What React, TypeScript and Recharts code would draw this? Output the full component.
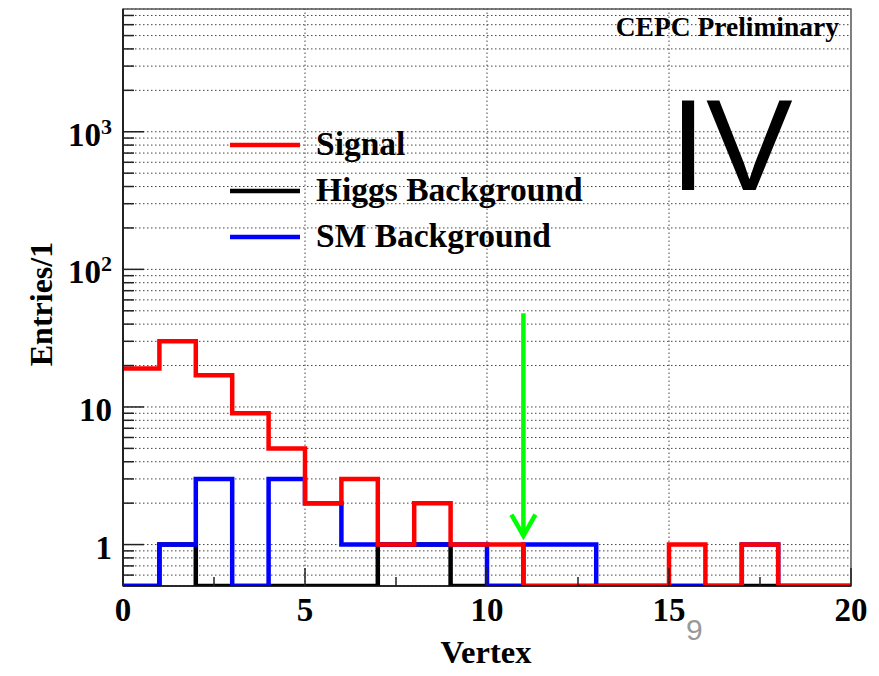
import React from "react";
import {
  ComposedChart,
  Line,
  XAxis,
  YAxis,
  CartesianGrid,
  ReferenceLine,
  ReferenceArea,
  Legend,
  Customized,
} from "recharts";

// ---- data (entries per unit bin of "Vertex", bins [0,1), [1,2) ... [19,20)) ----
const BIN_EDGES = [0, 1, 2, 3, 4, 5, 6, 7, 8, 9, 10, 11, 12, 13, 14, 15, 16, 17, 18, 19, 20];
const SIGNAL = [19, 30, 17, 9, 5, 2, 3, 1, 2, 1, 1, 0, 0, 0, 0, 1, 0, 1, 0, 0];
const HIGGS_BKG = [0, 1, 0, 0, 0, 0, 0, 1, 1, 0, 0, 0, 0, 0, 0, 0, 0, 0, 0, 0];
const SM_BKG = [0, 1, 3, 0, 3, 2, 1, 1, 1, 1, 0, 1, 1, 0, 0, 0, 0, 1, 0, 0];

const SERIES = [
  { key: "signal", name: "Signal", color: "#ff0000" },
  { key: "higgs", name: "Higgs Background", color: "#000000" },
  { key: "sm", name: "SM Background", color: "#0000ff" },
];

// cut arrow
const CUT_X = 11;
const ARROW_TOP = 48;
const ARROW_TIP = 1.16;

// axes
const X_DOMAIN = [0, 20];
const X_TICKS = [0, 2.5, 5, 7.5, 10, 12.5, 15, 17.5, 20];
const X_MAJOR = [0, 5, 10, 15, 20];
const X_GRID = [5, 10, 15];
const Y_MIN = 0.5;
const Y_MAX = 7800;
const Y_TICKS = [
  0.6, 0.7, 0.8, 0.9, 1, 2, 3, 4, 5, 6, 7, 8, 9, 10, 20, 30, 40, 50, 60, 70, 80, 90,
  100, 200, 300, 400, 500, 600, 700, 800, 900, 1000, 2000, 3000, 4000, 5000, 6000, 7000,
];
const Y_MAJOR_LABELS: Record<number, [string, string]> = {
  1: ["1", ""],
  10: ["10", ""],
  100: ["10", "2"],
  1000: ["10", "3"],
};

const floorLog = (v: number) => (v > 0 ? v : Y_MIN);

const chartData = BIN_EDGES.map((x, i) => {
  const j = Math.min(i, SIGNAL.length - 1);
  return {
    x,
    signal: floorLog(SIGNAL[j]),
    higgs: floorLog(HIGGS_BKG[j]),
    sm: floorLog(SM_BKG[j]),
  };
});

const SERIF = "'Liberation Serif', 'Times New Roman', serif";
const W = 879;
const H = 676;

const YTick = (props: any) => {
  const { x, y, payload } = props;
  const v = payload.value;
  const lab = Y_MAJOR_LABELS[v];
  const major = !!lab;
  return (
    <g>
      <line x1={x} x2={x + (major ? 21 : 11)} y1={y} y2={y} stroke="#222" strokeWidth={1.5} />
      {major && (
        <text
          x={x - 11}
          y={y + 14}
          textAnchor="end"
          fontFamily={SERIF}
          fontWeight="bold"
          fontSize={33}
          fill="#000"
        >
          <tspan>{lab[0]}</tspan>
          {lab[1] && (
            <tspan fontSize={22} dy={-12}>
              {lab[1]}
            </tspan>
          )}
        </text>
      )}
    </g>
  );
};

const XTick = (props: any) => {
  const { x, y, payload } = props;
  const v = payload.value;
  const major = X_MAJOR.includes(v);
  return (
    <g>
      <line x1={x} x2={x} y1={y} y2={y - (major ? 18 : 9)} stroke="#222" strokeWidth={1.5} />
      {major && (
        <text
          x={x}
          y={y + 35}
          textAnchor="middle"
          fontFamily={SERIF}
          fontWeight="bold"
          fontSize={33}
          fill="#000"
        >
          {String(v)}
        </text>
      )}
    </g>
  );
};

const CutArrow = (p: any) => {
  const { x1, y1, x2, y2 } = p;
  if (x1 == null) return null;
  return (
    <g>
      <line x1={x1} y1={y1} x2={x2} y2={y2} stroke="#00ff00" strokeWidth={4.5} />
      <polyline
        points={`${x2 - 12},${y2 - 21} ${x2},${y2} ${x2 + 12},${y2 - 21}`}
        fill="none"
        stroke="#00ff00"
        strokeWidth={4.5}
      />
    </g>
  );
};

const LegendBox = () => (
  <svg width={380} height={150} style={{ display: "block" }}>
    {SERIES.map((s, i) => {
      const cy = 25 + i * 46;
      return (
        <g key={s.key}>
          <line x1={5} x2={75} y1={cy} y2={cy} stroke={s.color} strokeWidth={4.5} />
          <text
            x={91}
            y={cy + 10}
            fontFamily={SERIF}
            fontWeight="bold"
            fontSize={33.5}
            fill="#000"
          >
            {s.name}
          </text>
        </g>
      );
    })}
  </svg>
);

const Annotations = () => (
  <g>
    <text
      x={839}
      y={36}
      textAnchor="end"
      fontFamily={SERIF}
      fontWeight="bold"
      fontSize={27.5}
      fill="#000"
    >
      CEPC Preliminary
    </text>
    <text
      x={670}
      y={190}
      fontFamily="'Liberation Sans', Arial, sans-serif"
      fontSize={130}
      fill="#000"
    >
      IV
    </text>
    <text
      x={486}
      y={663}
      textAnchor="middle"
      fontFamily={SERIF}
      fontWeight="bold"
      fontSize={32.5}
      fill="#000"
    >
      Vertex
    </text>
    <text
      x={41}
      y={304}
      textAnchor="middle"
      dominantBaseline="central"
      transform="rotate(-90 41 304)"
      fontFamily={SERIF}
      fontWeight="bold"
      fontSize={32}
      fill="#000"
    >
      Entries/1
    </text>
    <text
      x={686}
      y={640}
      fontFamily="'Liberation Sans', Arial, sans-serif"
      fontSize={30}
      fill="#999"
    >
      9
    </text>
  </g>
);

export default function App() {
  return (
    <div style={{ position: "absolute", left: 0, top: 0, width: W, height: H, background: "#fff" }}>
      <ComposedChart
        width={W}
        height={H}
        data={chartData}
        margin={{ top: 9, right: 28, bottom: 0, left: 23 }}
      >
        <CartesianGrid
          vertical={false}
          stroke="#444"
          strokeDasharray="1.5 2.5"
          strokeWidth={1}
        />
        {X_GRID.map((gx) => (
          <ReferenceLine
            key={gx}
            x={gx}
            stroke="#444"
            strokeDasharray="1.5 2.5"
            strokeWidth={1}
          />
        ))}
        <XAxis
          dataKey="x"
          type="number"
          domain={X_DOMAIN}
          ticks={X_TICKS}
          interval={0}
          height={90}
          tickSize={0}
          tickMargin={0}
          tickLine={false}
          axisLine={{ stroke: "#111", strokeWidth: 1.5 }}
          tick={<XTick />}
          allowDecimals
        />
        <YAxis
          type="number"
          scale="log"
          domain={[Y_MIN, Y_MAX]}
          allowDataOverflow
          ticks={Y_TICKS}
          interval={0}
          width={100}
          tickSize={0}
          tickMargin={0}
          tickLine={false}
          axisLine={{ stroke: "#222", strokeWidth: 2 }}
          tick={<YTick />}
        />
        <ReferenceArea
          x1={X_DOMAIN[0]}
          x2={X_DOMAIN[1]}
          y1={Y_MIN}
          y2={Y_MAX}
          fill="none"
          stroke="#555"
          strokeWidth={1.5}
        />
        <Line
          type="stepAfter"
          dataKey="higgs"
          name="Higgs Background"
          stroke="#000000"
          strokeWidth={4.5}
          dot={false}
          activeDot={false}
          isAnimationActive={false}
        />
        <Line
          type="stepAfter"
          dataKey="sm"
          name="SM Background"
          stroke="#0000ff"
          strokeWidth={4.5}
          dot={false}
          activeDot={false}
          isAnimationActive={false}
        />
        <Line
          type="stepAfter"
          dataKey="signal"
          name="Signal"
          stroke="#ff0000"
          strokeWidth={4.5}
          dot={false}
          activeDot={false}
          isAnimationActive={false}
        />
        <ReferenceLine
          segment={[
            { x: CUT_X, y: ARROW_TOP },
            { x: CUT_X, y: ARROW_TIP },
          ]}
          shape={(p: any) => <CutArrow {...p} />}
        />
        <Legend
          layout="vertical"
          align="center"
          verticalAlign="middle"
          content={() => <LegendBox />}
          wrapperStyle={{ left: 225, top: 120, width: 380, height: 150 }}
        />
        <Customized component={Annotations} />
      </ComposedChart>
    </div>
  );
}
